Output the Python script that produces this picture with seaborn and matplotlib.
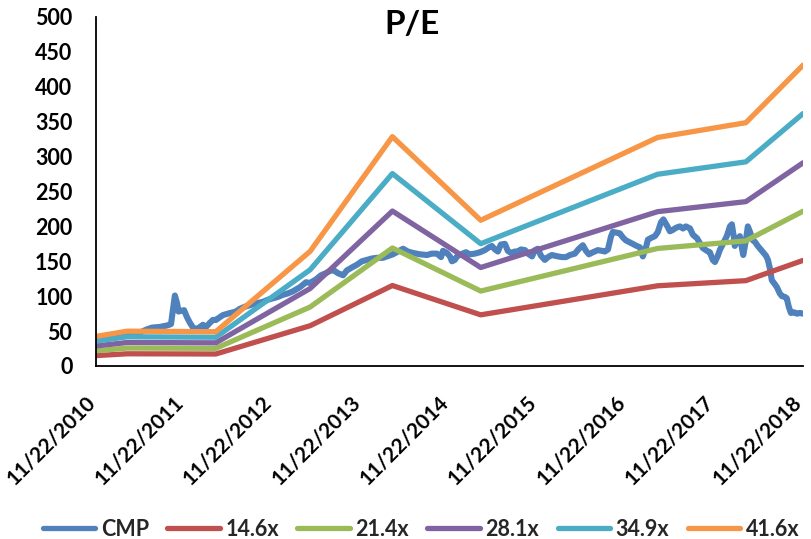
import matplotlib
matplotlib.use("Agg")
import matplotlib.pyplot as plt
import matplotlib.lines as mlines
import pandas as pd
import seaborn as sns

# ---- data -------------------------------------------------------------
cmp_dates = [
    "2010-11-22", "2011-01-18", "2011-04-03", "2011-05-23", "2011-06-17", "2011-07-11",
    "2011-08-13", "2011-09-11", "2011-09-28", "2011-10-06", "2011-10-14", "2011-10-23",
    "2011-10-29", "2011-11-08", "2011-11-21", "2011-12-03", "2011-12-15", "2011-12-28",
    "2012-01-13", "2012-01-26", "2012-02-07", "2012-02-20", "2012-03-07", "2012-03-19",
    "2012-04-01", "2012-04-17", "2012-04-30", "2012-05-25", "2012-06-22", "2012-07-09",
    "2012-07-30", "2012-08-19", "2012-09-17", "2012-10-12", "2012-11-02", "2012-11-22",
    "2012-12-13", "2013-01-03", "2013-01-23", "2013-02-13", "2013-03-14", "2013-04-08",
    "2013-04-24", "2013-05-19", "2013-06-09", "2013-06-29", "2013-07-20", "2013-08-01",
    "2013-08-18", "2013-09-08", "2013-09-24", "2013-10-19", "2013-11-04", "2013-11-25",
    "2013-12-16", "2014-01-05", "2014-01-26", "2014-02-20", "2014-03-08", "2014-04-02",
    "2014-04-23", "2014-05-14", "2014-06-03", "2014-06-24", "2014-07-23", "2014-08-21",
    "2014-09-10", "2014-10-01", "2014-10-18", "2014-10-26", "2014-11-11", "2014-11-24",
    "2014-12-02", "2014-12-14", "2014-12-23", "2015-01-08", "2015-01-29", "2015-02-14",
    "2015-03-07", "2015-03-28", "2015-04-17", "2015-05-04", "2015-05-16", "2015-05-29",
    "2015-06-10", "2015-06-22", "2015-07-09", "2015-07-21", "2015-08-03", "2015-08-19",
    "2015-09-01", "2015-09-13", "2015-09-30", "2015-10-16", "2015-10-29", "2015-11-10",
    "2015-11-22", "2015-12-05", "2015-12-21", "2016-01-03", "2016-01-19", "2016-02-01",
    "2016-02-13", "2016-03-01", "2016-03-17", "2016-04-03", "2016-04-23", "2016-05-10",
    "2016-05-26", "2016-06-08", "2016-06-20", "2016-07-07", "2016-07-27", "2016-08-13",
    "2016-08-25", "2016-09-07", "2016-09-19", "2016-09-27", "2016-10-14", "2016-10-26",
    "2016-11-08", "2016-11-20", "2016-12-07", "2016-12-19", "2017-01-04", "2017-01-17",
    "2017-01-29", "2017-02-11", "2017-02-19", "2017-03-07", "2017-03-20", "2017-04-01",
    "2017-04-14", "2017-04-24", "2017-05-09", "2017-05-21", "2017-06-02", "2017-06-15",
    "2017-07-01", "2017-07-14", "2017-07-26", "2017-08-12", "2017-08-24", "2017-09-10",
    "2017-09-22", "2017-10-04", "2017-10-21", "2017-11-02", "2017-11-14", "2017-11-23",
    "2017-12-05", "2017-12-13", "2017-12-26", "2018-01-11", "2018-01-24", "2018-02-01",
    "2018-02-09", "2018-02-13", "2018-02-22", "2018-03-06", "2018-03-14", "2018-03-20",
    "2018-03-31", "2018-04-08", "2018-04-16", "2018-04-29", "2018-05-07", "2018-05-19",
    "2018-06-05", "2018-06-22", "2018-06-30", "2018-07-08", "2018-07-16", "2018-07-29",
    "2018-08-06", "2018-08-18", "2018-08-27", "2018-09-08", "2018-09-16", "2018-09-24",
    "2018-10-03", "2018-10-15", "2018-10-28", "2018-11-09", "2018-11-22",
]
cmp_values = [
    38, 40, 44, 48, 52, 55,
    56, 58, 60, 80, 101, 90,
    78, 79, 80, 70, 62, 55,
    53, 56, 59, 56, 62, 66,
    66, 70, 73, 75.5, 78, 82,
    85, 87, 90, 92, 95, 97,
    99, 102, 104, 107, 113, 120,
    119, 124, 130, 133, 137, 137,
    133, 130, 137, 142, 145, 150,
    152, 154, 155, 155, 157, 160,
    164, 168, 164, 162, 160, 159,
    161, 161, 156, 165, 162, 157,
    150, 152, 157, 160, 163, 160,
    161, 163, 166, 170, 172, 167,
    164, 174, 175, 165, 162, 164,
    164, 167, 166, 160, 157, 166,
    168, 158, 152, 156, 159, 158,
    157, 156, 156, 159, 161, 168,
    173, 165, 160, 163, 166, 165,
    164, 167, 185, 192, 191, 190,
    184, 180, 177, 175, 172, 170,
    157, 170, 181, 184, 186, 192,
    206, 210, 201, 193, 195, 198,
    200, 197, 200, 197, 188, 183,
    176, 169, 165, 163, 152, 149,
    158, 166, 175, 186, 200, 203,
    185, 172, 180, 186, 170, 159,
    180, 200, 193, 180, 178, 172,
    165, 158, 152, 140, 123, 117,
    113, 104, 100, 99, 97, 85,
    76, 77, 75, 76, 75,
]

band_dates = ["2010-11-22", "2011-03-31", "2012-03-31", "2013-04-25", "2014-03-31",
              "2015-03-31", "2017-03-31", "2018-03-31", "2018-11-22"]
pe_14_6 = [14.9, 17.5, 17.2, 57.7, 115.3, 73.3, 114.9, 122.3, 151.3]
pe_21_4 = [21.8, 25.7, 25.3, 84.5, 169.1, 107.4, 168.4, 179.3, 221.7]
pe_28_1 = [28.7, 33.7, 33.2, 111.0, 222.0, 141.1, 221.1, 235.5, 291.1]
pe_34_9 = [35.6, 41.9, 41.2, 137.9, 275.7, 175.2, 274.7, 292.5, 361.6]
pe_41_6 = [42.4, 49.9, 49.1, 164.3, 328.6, 208.8, 327.4, 348.6, 431.0]

series_names = ["CMP", "14.6x", "21.4x", "28.1x", "34.9x", "41.6x"]
series_colors = ["#4F81BD", "#C0504D", "#9BBB59", "#8064A2", "#4BACC6", "#F79646"]
x_tick_labels = ["11/22/2010", "11/22/2011", "11/22/2012", "11/22/2013", "11/22/2014",
                 "11/22/2015", "11/22/2016", "11/22/2017", "11/22/2018"]
y_ticks = [0, 50, 100, 150, 200, 250, 300, 350, 400, 450, 500]

# ---- long-form table ----------------------------------------------------
frames = [pd.DataFrame({"date": pd.to_datetime(cmp_dates), "value": cmp_values, "series": "CMP"})]
for name, vals in zip(series_names[1:], [pe_14_6, pe_21_4, pe_28_1, pe_34_9, pe_41_6]):
    frames.append(pd.DataFrame({"date": pd.to_datetime(band_dates), "value": vals, "series": name}))
df = pd.concat(frames, ignore_index=True)

# ---- figure -------------------------------------------------------------
sns.set_theme(style="white")
plt.rcParams["font.family"] = ["Lato", "DejaVu Sans"]
plt.rcParams["font.weight"] = "bold"

fig = plt.figure(figsize=(8.11, 5.39), dpi=100)
ax = fig.add_axes([96 / 811, 1 - 366 / 539, (803 - 96) / 811, (366 - 17) / 539])

palette = dict(zip(series_names, series_colors))
sizes = {name: (4.4 if name == "CMP" else 3.8) for name in series_names}
sns.lineplot(data=df, x="date", y="value", hue="series", hue_order=series_names,
             palette=palette, size="series", sizes=sizes, estimator=None, ax=ax,
             legend=False, solid_joinstyle="round", solid_capstyle="round")

ax.set_xlim(pd.Timestamp("2010-11-22"), pd.Timestamp("2018-11-22"))
ax.set_ylim(0, 500)
ax.set_yticks(y_ticks)
ax.set_yticklabels([str(v) for v in y_ticks], fontsize=15.5, fontweight="bold")
ax.set_xticks(pd.to_datetime(x_tick_labels, format="%m/%d/%Y"))
ax.set_xticklabels(x_tick_labels, fontsize=15, fontweight="bold",
                   rotation=45, ha="right", va="baseline", rotation_mode="anchor")
ax.tick_params(axis="y", length=0, pad=17, colors="black")
ax.tick_params(axis="x", length=0, pad=27, colors="black")
ax.set_xlabel("")
ax.set_ylabel("")
ax.grid(False)
for side in ["top", "right"]:
    ax.spines[side].set_visible(False)
for side in ["left", "bottom"]:
    ax.spines[side].set_color("black")
    ax.spines[side].set_linewidth(1.3)
ax.patch.set_alpha(0)

fig.text(412 / 811, 1 - 24 / 539, "P/E", ha="center", va="center",
         fontsize=24, fontweight="bold", color="black")

handles = [mlines.Line2D([], [], color=c, linewidth=3.8, solid_capstyle="round")
           for c in series_colors]
leg = fig.legend(handles, series_names, loc="center", bbox_to_anchor=(421 / 811, 10 / 539),
                 ncol=6, frameon=False, handlelength=2.45, handletextpad=0.25,
                 columnspacing=0.85, prop={"size": 15.5, "weight": "bold"})

fig.savefig("out.png", dpi=100)
